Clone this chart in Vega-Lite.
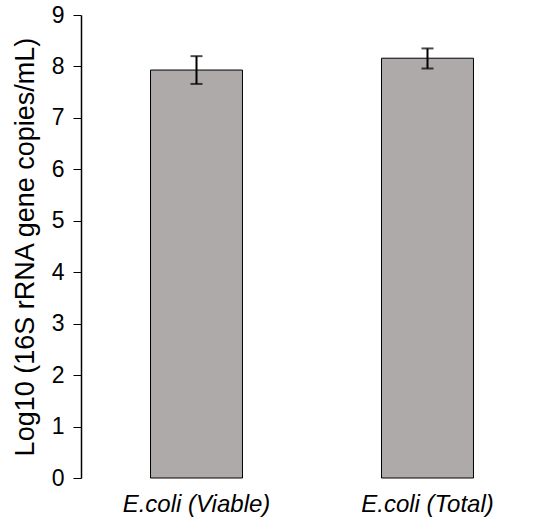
{
  "$schema": "https://vega.github.io/schema/vega-lite/v6.json",
  "autosize": {"type": "none"},
  "padding": {"left": 81, "top": 15, "right": 0, "bottom": 47},
  "width": 455,
  "height": 463,
  "background": "white",
  "data": {"values": [
    {"group": "E.coli (Viable)", "mean": 7.93, "lo": 7.66, "hi": 8.2},
    {"group": "E.coli (Total)", "mean": 8.16, "lo": 7.96, "hi": 8.35}
  ]},
  "config": {
    "view": {"stroke": null},
    "font": "Liberation Sans",
    "axis": {"grid": false, "domainColor": "black", "tickColor": "black", "labelColor": "black", "titleColor": "black", "labelFont": "Liberation Sans", "titleFont": "Liberation Sans"}
  },
  "encoding": {
    "x": {
      "field": "group", "type": "nominal", "sort": null,
      "scale": {"range": [0, 462], "paddingInner": 0.602, "paddingOuter": 0.301},
      "axis": {"title": null, "domain": false, "ticks": false, "labelAngle": 0, "labelFontSize": 24, "labelFontStyle": "italic", "labelPadding": 14}
    }
  },
  "layer": [
    {
      "mark": {"type": "bar", "fill": "#AEAAAA", "stroke": "black", "strokeWidth": 1},
      "encoding": {
        "y": {
          "field": "mean", "type": "quantitative",
          "scale": {"domain": [0, 9], "nice": false},
          "axis": {"title": "Log10 (16S rRNA gene copies/mL)", "values": [0,1,2,3,4,5,6,7,8,9], "tickSize": 8, "labelFontSize": 23, "labelPadding": 9, "titleFontSize": 27, "titleFontWeight": "normal", "titleX": -56, "titleBaseline": "middle", "domainWidth": 1.5}
        }
      }
    },
    {
      "mark": {"type": "rule", "color": "black", "strokeWidth": 2},
      "encoding": {
        "y": {"field": "lo", "type": "quantitative"},
        "y2": {"field": "hi"}
      }
    },
    {
      "mark": {"type": "tick", "color": "black", "thickness": 2, "size": 12, "orient": "horizontal"},
      "encoding": {"y": {"field": "lo", "type": "quantitative"}}
    },
    {
      "mark": {"type": "tick", "color": "black", "thickness": 2, "size": 12, "orient": "horizontal"},
      "encoding": {"y": {"field": "hi", "type": "quantitative"}}
    },
    {
      "mark": {"type": "rule", "color": "black", "strokeWidth": 1.5},
      "encoding": {"y": {"datum": 0, "type": "quantitative"}}
    }
  ]
}
